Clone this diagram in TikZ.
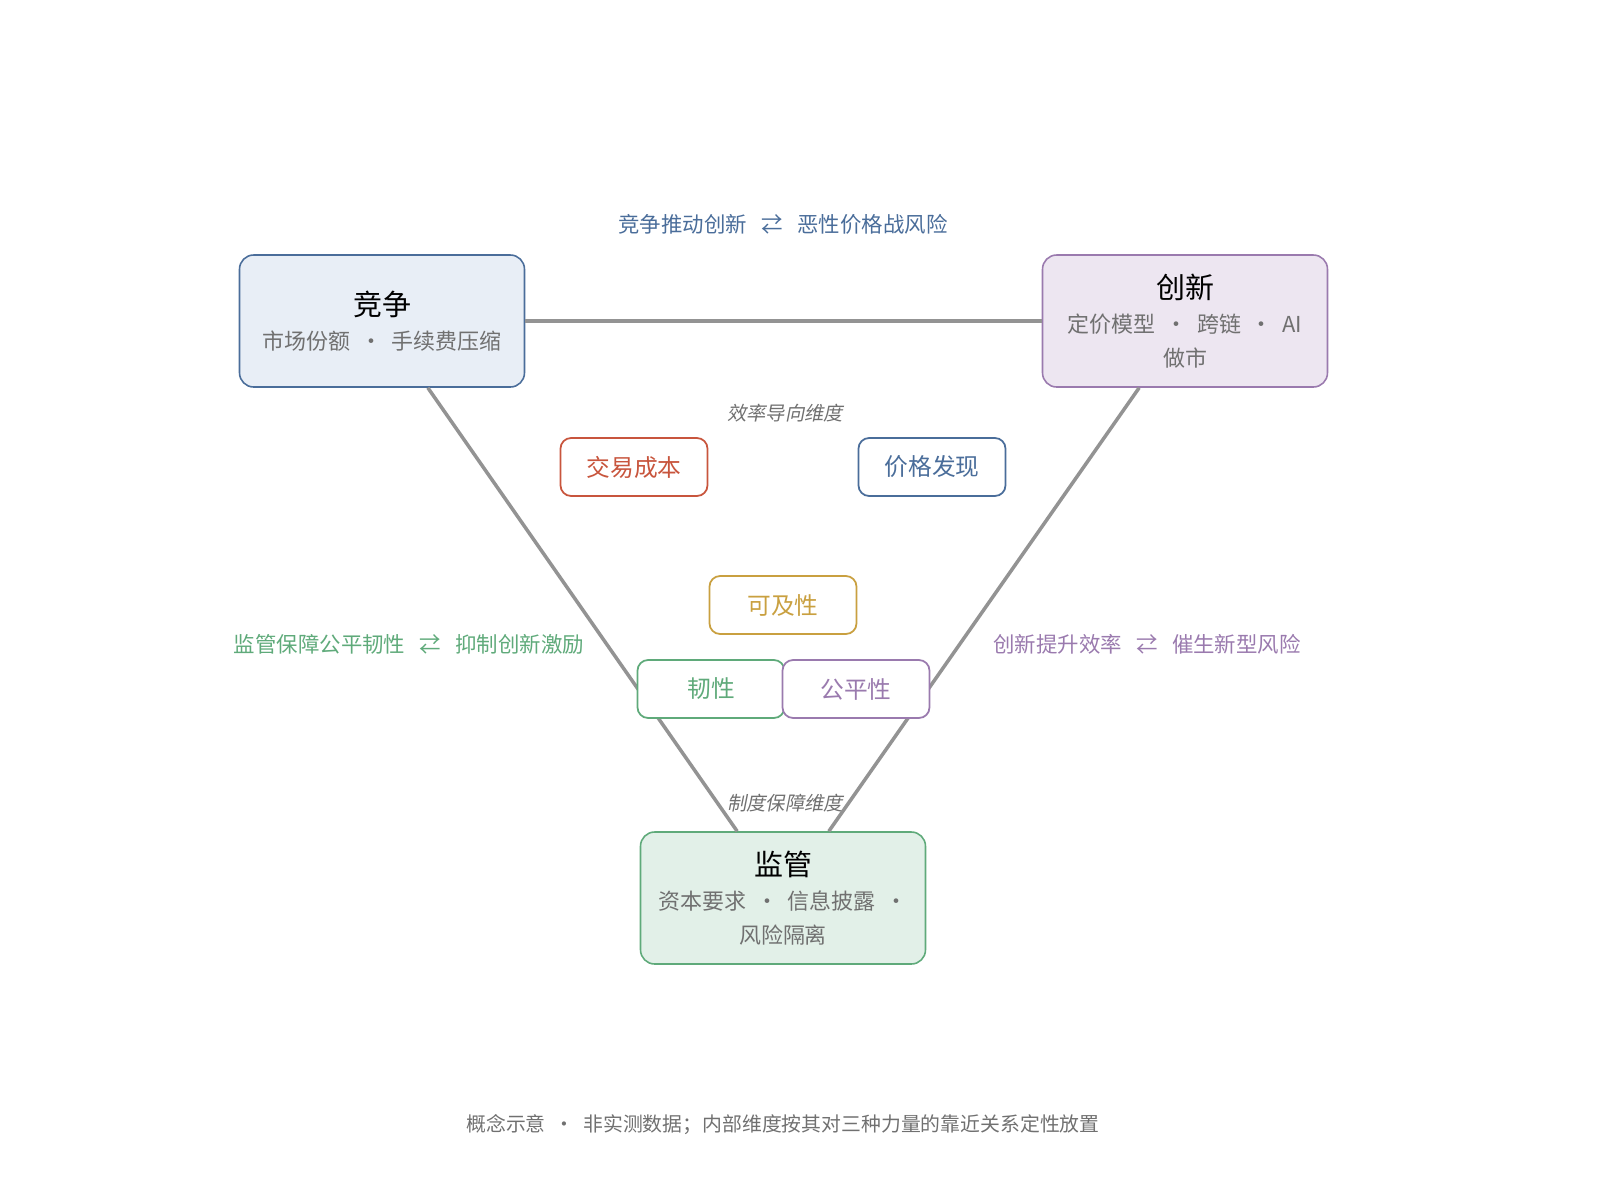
\documentclass[tikz,border=0pt]{standalone}
\usepackage{fontspec}
\setmainfont{Noto Sans CJK SC}
\newfontfamily\slantcjk[FakeSlant=0.2]{Noto Sans CJK SC}
\usetikzlibrary{calc}
\definecolor{jzblue}{HTML}{4A6D9A}
\definecolor{jzfill}{HTML}{E8EEF6}
\definecolor{cxpurple}{HTML}{9A7AAE}
\definecolor{cxfill}{HTML}{EDE6F1}
\definecolor{jggreen}{HTML}{5FAA7A}
\definecolor{jgfill}{HTML}{E2F0E8}
\definecolor{cbred}{HTML}{C8553D}
\definecolor{kjgold}{HTML}{C9A040}
\definecolor{subgray}{HTML}{707070}
\tikzset{
  force/.style={draw, rounded corners=8pt, line width=0.9pt, minimum width=5.7cm,
    minimum height=2.64cm, align=center, font=\fontsize{12.5}{19.5}\selectfont, text=subgray},
  dim/.style={draw, fill=white, rounded corners=6pt, line width=1pt, minimum width=2.94cm,
    minimum height=1.16cm, font=\fontsize{13.5}{16}\selectfont},
  link/.style={draw=gray!85, line width=2pt},
  tag/.style={font=\fontsize{12.2}{14}\selectfont},
  note/.style={font=\slantcjk\fontsize{11}{13}\selectfont, text=subgray}
}
\newcommand{\ftitle}[1]{{\fontsize{16.5}{23}\selectfont\color{black}#1}}
\begin{document}
\begin{tikzpicture}[x=0.02cm,y=-0.02cm]
\useasboundingbox (0,0) rectangle (1600,1194);

% three forces
\node[force, draw=jzblue, fill=jzfill] (jz) at (382,321) {\ftitle{竞争}\\市场份额 \ · \ 手续费压缩};
\node[force, draw=cxpurple, fill=cxfill] (cx) at (1185,321) {\ftitle{创新}\\定价模型 \ · \ 跨链 \ · \ AI\\做市};
\node[force, draw=jggreen, fill=jgfill] (jg) at (783,898) {\ftitle{监管}\\资本要求 \ · \ 信息披露 \ ·\\风险隔离};

% edges
\draw[link] (jz.east) -- (cx.west);
\draw[link] ($(jz.south west)!0.66!(jz.south east)$) -- ($(jg.north west)!0.34!(jg.north east)$);
\draw[link] ($(cx.south west)!0.34!(cx.south east)$) -- ($(jg.north west)!0.66!(jg.north east)$);

% edge labels
\node[tag, text=jzblue] (t1) at (783,224) {竞争推动创新 \ \ ⇄ \ \ 恶性价格战风险};
\node[tag, text=jggreen] (t2) at (409,644) {监管保障公平韧性 \ \ ⇄ \ \ 抑制创新激励};
\node[tag, text=cxpurple] (t3) at (1147,644) {创新提升效率 \ \ ⇄ \ \ 催生新型风险};

% inner dimensions
\node[note] (n1) at (785,413) {效率导向维度};
\node[dim, draw=cbred, text=cbred] (cb) at (634,467) {交易成本};
\node[dim, draw=jzblue, text=jzblue] (jgfx) at (932,467) {价格发现};
\node[dim, draw=kjgold, text=kjgold] (kj) at (783,605) {可及性};
\node[dim, draw=jggreen, text=jggreen] (rx) at (711,689) {韧性};
\node[dim, draw=cxpurple, text=cxpurple] (gp) at (856,689) {公平性};
\node[note] (n2) at (785,803) {制度保障维度};

\node[font=\fontsize{11.3}{13}\selectfont, text=subgray] (foot) at (783,1125) {概念示意 \ · \ 非实测数据；内部维度按其对三种力量的靠近关系定性放置};
\end{tikzpicture}
\end{document}
